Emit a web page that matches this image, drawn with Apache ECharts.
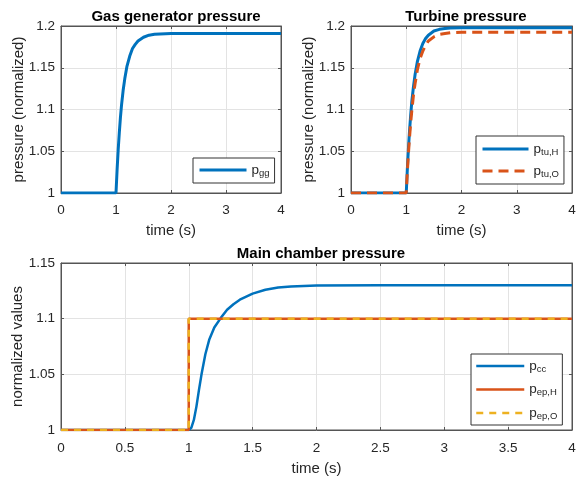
<!DOCTYPE html>
<html>
<head>
<meta charset="utf-8">
<script src="https://cdn.jsdelivr.net/npm/echarts@6/dist/echarts.min.js"></script>
<style>
html,body{margin:0;padding:0;background:#fff;}
#chart{width:578px;height:479px;}
</style>
</head>
<body>
<div id="chart"></div>
<script>
// ---- data ----
const tRise = [0, 1, 1.02, 1.04, 1.06, 1.08, 1.1, 1.13, 1.16, 1.2, 1.25, 1.3, 1.35, 1.4, 1.5, 1.6, 1.7, 1.8, 2, 2.5, 3, 4];
const pGG   = [1, 1, 1.028, 1.052, 1.072, 1.090, 1.105, 1.123, 1.137, 1.152, 1.164, 1.173, 1.178, 1.182, 1.1865, 1.189, 1.190, 1.1905, 1.191, 1.191, 1.191, 1.191];
const pTuH  = [1, 1, 1.029, 1.054, 1.075, 1.093, 1.109, 1.127, 1.142, 1.157, 1.170, 1.179, 1.185, 1.189, 1.194, 1.196, 1.197, 1.1975, 1.198, 1.198, 1.198, 1.198];
const pTuO  = [1, 1, 1.026, 1.048, 1.067, 1.084, 1.098, 1.117, 1.131, 1.147, 1.161, 1.170, 1.177, 1.182, 1.187, 1.190, 1.191, 1.192, 1.1925, 1.1925, 1.1925, 1.1925];
const pCC   = [1, 1, 1.002, 1.009, 1.021, 1.036, 1.050, 1.068, 1.081, 1.092, 1.1005, 1.108, 1.113, 1.117, 1.1225, 1.126, 1.128, 1.129, 1.1297, 1.130, 1.130, 1.130];
const tStep = [0, 1, 1, 4];
const pEpH  = [1, 1, 1.1, 1.1];
const pEpO  = [1, 1, 1.1, 1.1];
const xTicksTop = [0, 1, 2, 3, 4];
const xTicksBottom = [0, 0.5, 1, 1.5, 2, 2.5, 3, 3.5, 4];
const yTicksTop = [1, 1.05, 1.1, 1.15, 1.2];
const yTicksBottom = [1, 1.05, 1.1, 1.15];
const titles = ['Gas generator pressure', 'Turbine pressure', 'Main chamber pressure'];
const legendSubs = { pGG: 'gg', pTuH: 'tu,H', pTuO: 'tu,O', pCC: 'cc', pEpH: 'ep,H', pEpO: 'ep,O' };

const BLUE = '#0072BD', ORANGE = '#D95319', YELLOW = '#EDB120';
const TXT = '#262626', AX = '#555555', GRIDC = '#e3e3e3';
const FONT = '"Liberation Sans", Arial, Helvetica, sans-serif';

function pairs(xs, ys) { return xs.map((x, i) => [x, ys[i]]); }

const grids = [
  { left: 61, top: 26, width: 220, height: 167 },
  { left: 351, top: 26, width: 221, height: 167 },
  { left: 61, top: 263, width: 511, height: 167 }
];

function xAxis(gi, ticks, gap, margin) {
  return {
    type: 'value', gridIndex: gi, min: 0, max: 4, interval: ticks[1] - ticks[0],
    name: 'time (s)', nameLocation: 'middle', nameGap: gap, nameMoveOverlap: false,
    nameTextStyle: { color: TXT, fontSize: 15, fontFamily: FONT },
    axisLine: { show: true, onZero: false, lineStyle: { color: AX, width: 1 } },
    axisTick: { show: true, inside: true, length: 3, lineStyle: { color: AX } },
    axisLabel: { color: TXT, fontSize: 13.5, fontFamily: FONT, margin: margin, hideOverlap: false },
    splitLine: { show: true, lineStyle: { color: GRIDC, width: 1 } }
  };
}
function xAxisTop(gi, ticks) {
  return {
    type: 'value', gridIndex: gi, position: 'top', min: 0, max: 4, interval: ticks[1] - ticks[0],
    axisLine: { show: true, onZero: false, lineStyle: { color: AX, width: 1 } },
    axisTick: { show: true, inside: true, length: 3, lineStyle: { color: AX } },
    axisLabel: { show: false }, splitLine: { show: false }
  };
}
function yAxis(gi, ticks, name, gap) {
  return {
    type: 'value', gridIndex: gi, min: ticks[0], max: ticks[ticks.length - 1], interval: 0.05,
    name: name, nameLocation: 'middle', nameGap: gap, nameMoveOverlap: false,
    nameTextStyle: { color: TXT, fontSize: 15, fontFamily: FONT },
    axisLine: { show: true, lineStyle: { color: AX, width: 1 } },
    axisTick: { show: true, inside: true, length: 3, lineStyle: { color: AX } },
    axisLabel: { color: TXT, fontSize: 13.5, fontFamily: FONT, margin: 6,
      formatter: v => String(Math.round(v * 100) / 100) },
    splitLine: { show: true, lineStyle: { color: GRIDC, width: 1 } }
  };
}
function yAxisRight(gi, ticks) {
  return {
    type: 'value', gridIndex: gi, position: 'right', min: ticks[0], max: ticks[ticks.length - 1], interval: 0.05,
    axisLine: { show: true, onZero: false, lineStyle: { color: AX, width: 1 } },
    axisTick: { show: true, inside: true, length: 3, lineStyle: { color: AX } },
    axisLabel: { show: false }, splitLine: { show: false }
  };
}

const rich = {
  m: { fontSize: 13.5, fontFamily: FONT, color: TXT, lineHeight: 16, verticalAlign: 'middle' },
  s: { fontSize: 9.5, fontFamily: FONT, color: TXT, lineHeight: 8, verticalAlign: 'bottom' }
};
function legend(names, left, top, pad, gap, iw) {
  return {
    data: names, orient: 'vertical', left: left, top: top,
    padding: pad, itemGap: gap, itemWidth: iw, itemHeight: 14,
    backgroundColor: '#fff', borderColor: '#333', borderWidth: 1,
    itemStyle: { color: 'rgba(0,0,0,0)', borderWidth: 0, opacity: 0 },
    lineStyle: { width: 'inherit' },
    textStyle: { rich: rich },
    formatter: n => '{m|p}{s|' + legendSubs[n] + '}'
  };
}

function line(name, xi, data, color, width, dash, z) {
  return {
    name: name, type: 'line', xAxisIndex: xi, yAxisIndex: xi,
    data: data, symbol: 'none', smooth: false, z: z, animation: false,
    lineStyle: { color: color, width: width, type: dash || 'solid', cap: 'butt' },
    itemStyle: { color: color }
  };
}

const option = {
  animation: false,
  backgroundColor: '#fff',
  title: [
    { text: titles[0], left: 171, top: 4, textAlign: 'center',
      textStyle: { fontSize: 15, fontWeight: 'bold', color: '#000', fontFamily: FONT } },
    { text: titles[1], left: 461, top: 4, textAlign: 'center',
      textStyle: { fontSize: 15, fontWeight: 'bold', color: '#000', fontFamily: FONT } },
    { text: titles[2], left: 316, top: 241, textAlign: 'center',
      textStyle: { fontSize: 15, fontWeight: 'bold', color: '#000', fontFamily: FONT } }
  ],
  grid: grids.map(g => Object.assign({ show: true, borderColor: AX, borderWidth: 1, backgroundColor: '#fff',
    containLabel: false, outerBoundsMode: 'none' }, g)),
  xAxis: [xAxis(0, xTicksTop, 30, 10), xAxis(1, xTicksTop, 30, 10), xAxis(2, xTicksBottom, 31, 11),
          xAxisTop(0, xTicksTop), xAxisTop(1, xTicksTop), xAxisTop(2, xTicksBottom)],
  yAxis: [yAxis(0, yTicksTop, 'pressure (normalized)', 35), yAxis(1, yTicksTop, 'pressure (normalized)', 35),
          yAxis(2, yTicksBottom, 'normalized values', 36),
          yAxisRight(0, yTicksTop), yAxisRight(1, yTicksTop), yAxisRight(2, yTicksBottom)],
  legend: [
    legend(['pGG'], 193, 158, [5, 5, 5, 5], 7, 47),
    legend(['pTuH', 'pTuO'], 476, 136, [6, 5, 5, 5], 7, 46),
    legend(['pCC', 'pEpH', 'pEpO'], 471, 354, [5, 5, 4, 4], 8.5, 48)
  ],
  series: [
    line('pGG', 0, pairs(tRise, pGG), BLUE, 3, null, 2),
    line('pTuH', 1, pairs(tRise, pTuH), BLUE, 3, null, 2),
    line('pTuO', 1, pairs(tRise, pTuO), ORANGE, 3, [10, 6], 3),
    line('pCC', 2, pairs(tRise, pCC), BLUE, 2.5, null, 2),
    line('pEpH', 2, pairs(tStep, pEpH), ORANGE, 2.5, null, 3),
    line('pEpO', 2, pairs(tStep, pEpO), YELLOW, 2.5, [7, 6], 4)
  ]
};

const chart = echarts.init(document.getElementById('chart'), null, { renderer: 'canvas' });
chart.setOption(option);
</script>
</body>
</html>
